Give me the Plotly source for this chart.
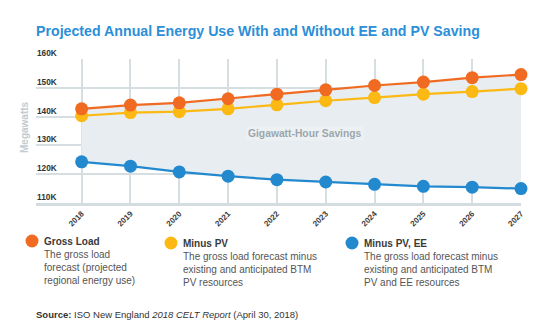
import plotly.graph_objects as go

# Forecast years and annual energy (MW) for each scenario
years = [2018, 2019, 2020, 2021, 2022, 2023, 2024, 2025, 2026, 2027]
gross_load = [142700, 144000, 144800, 146200, 147800, 149300, 150800, 152000, 153500, 154600]
minus_pv = [140300, 141400, 141700, 142700, 144100, 145500, 146600, 147800, 148700, 149700]
minus_pv_ee = [124300, 122800, 120800, 119300, 118100, 117300, 116500, 115800, 115500, 115000]

y_tick_vals = [110000, 120000, 130000, 140000, 150000, 160000]
y_tick_text = ["110K", "120K", "130K", "140K", "150K", "160K"]

series_names = ["Gross Load", "Minus PV", "Minus PV, EE"]
series_notes = [
    "The gross load<br>forecast (projected<br>regional energy use)",
    "The gross load forecast minus<br>existing and anticipated BTM<br>PV resources",
    "The gross load forecast minus<br>existing and anticipated BTM<br>PV and EE resources",
]

ORANGE = "#f06a22"
YELLOW = "#fcb914"
BLUE = "#2389cf"
GRID = "#d6dee2"
FONT = "Liberation Sans, Arial, sans-serif"

W, H = 552, 330
L, R, T, B = 36, 31, 59, 127
PW, PH = W - L - R, H - T - B


def fx(p):
    return (p - L) / PW


def fy(p):
    return (H - B - p) / PH


fig = go.Figure()

# shaded band between the lowest and highest forecasts
fig.add_trace(go.Scatter(x=years, y=minus_pv_ee, mode="lines", line=dict(width=0),
                         hoverinfo="skip", showlegend=False))
fig.add_trace(go.Scatter(x=years, y=gross_load, mode="lines", line=dict(width=0),
                         fill="tonexty", fillcolor="#e7edf0",
                         hoverinfo="skip", showlegend=False))

for vals, color, name in [(minus_pv_ee, BLUE, series_names[2]),
                          (minus_pv, YELLOW, series_names[1]),
                          (gross_load, ORANGE, series_names[0])]:
    fig.add_trace(go.Scatter(x=years, y=vals, name=name, mode="lines+markers",
                             line=dict(color=color, width=2.2),
                             marker=dict(color=color, size=13),
                             cliponaxis=False, showlegend=False))

annotations = [
    dict(text="<b>Projected Annual Energy Use With and Without EE and PV Saving</b>",
         x=fx(34), y=fy(31), xref="paper", yref="paper", xanchor="left", yanchor="middle",
         showarrow=False, font=dict(family=FONT, size=14.2, color="#2b8fd7")),
    dict(text="<b>Megawatts</b>", textangle=-90,
         x=fx(24), y=fy(127), xref="paper", yref="paper", xanchor="center", yanchor="middle",
         showarrow=False, font=dict(family=FONT, size=10, color="#c2ccd1")),
    dict(text="<b>Gigawatt-Hour Savings</b>", x=2022.58, y=134300, xref="x", yref="y",
         xanchor="center", yanchor="middle", showarrow=False, bgcolor="#edf1f3",
         font=dict(family=FONT, size=10.3, color="#9ca7ac")),
    dict(text="<b>Source:</b> ISO New England <i>2018 CELT Report</i> (April 30, 2018)",
         x=fx(34), y=fy(314), xref="paper", yref="paper", xanchor="left", yanchor="middle",
         showarrow=False, font=dict(family=FONT, size=9.5, color="#333333")),
]

# value labels sitting just above each horizontal gridline
for v, t in zip(y_tick_vals, y_tick_text):
    annotations.append(dict(text=f"<b>{t}</b>", x=fx(35), y=v, xref="paper", yref="y",
                            xanchor="left", yanchor="middle", yshift=6, showarrow=False,
                            font=dict(family=FONT, size=8.3, color="#333333")))

shapes = []
legend_pos = [(32, 43, 241, 254), (171, 182.5, 243, 256), (352, 363, 243, 256)]
for (cx, tx, ty, dy), color, name, note in zip(legend_pos, [ORANGE, YELLOW, BLUE],
                                              series_names, series_notes):
    shapes.append(dict(type="circle", xref="paper", yref="paper",
                       xsizemode="pixel", ysizemode="pixel",
                       xanchor=fx(cx), yanchor=fy(ty), x0=-6.5, x1=6.5, y0=-6.5, y1=6.5,
                       fillcolor=color, line=dict(width=0)))
    annotations.append(dict(text=f"<b>{name}</b>", x=fx(tx - 1.5), y=fy(ty), xref="paper", yref="paper",
                            xanchor="left", yanchor="middle", showarrow=False,
                            font=dict(family=FONT, size=10, color="#3a3a3a")))
    annotations.append(dict(text=note, x=fx(tx - 1.5), y=fy(dy - 7), xref="paper", yref="paper",
                            xanchor="left", yanchor="top", align="left", showarrow=False,
                            font=dict(family=FONT, size=10, color="#555555")))

fig.update_layout(
    width=W, height=H,
    margin=dict(l=L, r=R, t=T, b=B),
    paper_bgcolor="white", plot_bgcolor="white",
    annotations=annotations, shapes=shapes,
    xaxis=dict(range=[2017.065, 2027], tickvals=years,
               ticktext=[f"<b>{y}</b>" for y in years],
               tickangle=-45, showgrid=True, gridcolor=GRID, gridwidth=1.5,
               zeroline=False, showline=True, linecolor="#d3dce0", linewidth=3,
               ticks="", tickfont=dict(family=FONT, size=8, color="#3a3a3a")),
    yaxis=dict(range=[110000, 160000], tickvals=y_tick_vals, showticklabels=False,
               showgrid=True, gridcolor=GRID, gridwidth=1.5,
               zeroline=False, showline=False, ticks=""),
)

fig.write_html("out.html")
